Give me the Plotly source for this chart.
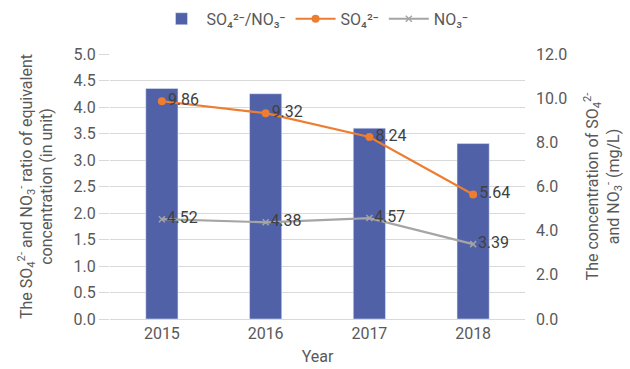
import plotly.graph_objects as go

years = ["2015", "2016", "2017", "2018"]
ratio = [4.35, 4.25, 3.60, 3.31]
so4 = [9.86, 9.32, 8.24, 5.64]
no3 = [4.52, 4.38, 4.57, 3.39]

left_ticks = [0, 0.5, 1, 1.5, 2, 2.5, 3, 3.5, 4, 4.5, 5]
right_ticks = [0, 2, 4, 6, 8, 10, 12]

font = "Roboto, Liberation Sans, Arial, sans-serif"
tick_col = "#595959"

fig = go.Figure()
fig.add_trace(go.Bar(x=years, y=ratio, name="SO₄²⁻/NO₃⁻", marker_color="#5061A8",
                     width=0.31, yaxis="y"))
fig.add_trace(go.Scatter(x=years, y=so4, name="SO₄²⁻", yaxis="y2", mode="lines+markers+text",
                         line=dict(color="#ED7D31", width=2.2),
                         marker=dict(color="#ED7D31", size=8, symbol="circle"),
                         text=[f"{v:.2f}" for v in so4], textposition="middle right",
                         textfont=dict(size=16, color="#404040", family=font)))
fig.add_trace(go.Scatter(x=years, y=no3, name="NO₃⁻", yaxis="y2", mode="lines+markers+text",
                         line=dict(color="#A5A5A5", width=2.2),
                         marker=dict(color="#A5A5A5", size=6, symbol="x-thin",
                                     line=dict(color="#A5A5A5", width=1.5)),
                         text=[f"{v:.2f}" for v in no3], textposition="middle right",
                         textfont=dict(size=16, color="#404040", family=font)))

fig.update_layout(
    width=630, height=369,
    margin=dict(l=110, r=105, t=54, b=50, autoexpand=False),
    paper_bgcolor="white", plot_bgcolor="white",
    font=dict(family=font, color=tick_col, size=16),
    showlegend=True,
    legend=dict(orientation="h", x=0.5, xanchor="center", xref="container",
                y=0.995, yanchor="top", yref="container",
                font=dict(size=16, color=tick_col), traceorder="normal",
                itemwidth=40, bgcolor="rgba(0,0,0,0)"),
    xaxis=dict(type="category", showgrid=False, showline=True, linecolor="#D9D9D9",
               ticks="", tickfont=dict(size=16, color=tick_col),
               title=dict(text="Year", font=dict(size=16, color=tick_col), standoff=8)),
    yaxis=dict(range=[0, 5], tickvals=left_ticks, tickformat=".1f",
               showgrid=True, gridcolor="#D9D9D9", gridwidth=1, zeroline=False,
               tickfont=dict(size=16, color=tick_col), ticks="outside", ticklen=10,
               tickcolor="#D9D9D9",
               title=dict(text="The SO<sub>4</sub><sup>2-</sup> and NO<sub>3</sub><sup>-</sup> ratio of equivalent<br>concentration (in unit)",
                          font=dict(size=16, color=tick_col), standoff=16)),
    yaxis2=dict(range=[0, 12], tickvals=right_ticks, tickformat=".1f",
                overlaying="y", side="right", showgrid=False, zeroline=False,
                tickfont=dict(size=16, color=tick_col), ticklabelstandoff=10,
                title=dict(text="The concentration of SO<sub>4</sub><sup>2-</sup><br>and NO<sub>3</sub><sup>-</sup> (mg/L)",
                           font=dict(size=16, color=tick_col), standoff=20)),
)

fig.write_html("out.html")
